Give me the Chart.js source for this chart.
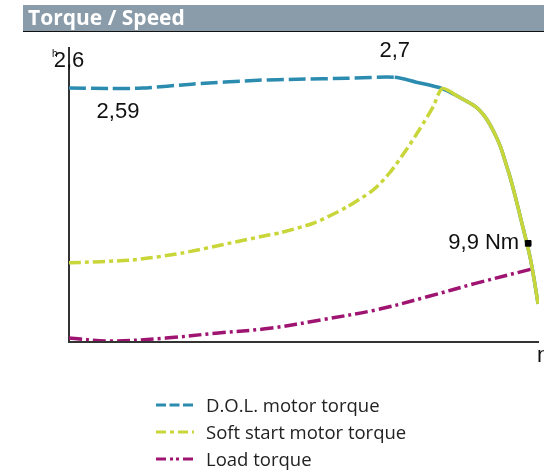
<!DOCTYPE html>
<html>
<head>
<meta charset="utf-8">
<script src="https://cdn.jsdelivr.net/npm/chart.js@4/dist/chart.umd.min.js"></script>
<style>
  html, body { margin: 0; padding: 0; background: #fff; }
  body { width: 544px; height: 471px; position: relative; overflow: hidden; }
  .head { position: absolute; left: 23px; top: 5px; width: 521px; height: 26px; background: #8a9ba9; border-bottom: 1px solid #111; }
  .head span { position: absolute; left: 5px; top: -2px; color: #fff; font: bold 21px 'Open Sans', sans-serif; }
  #wrap { position: absolute; left: 0; top: 0; width: 544px; height: 471px; }
  .legend { position: absolute; left: 156px; top: 391px; font: 18.5px 'Open Sans', sans-serif; color: #222; }
  .legend-item { height: 27px; display: flex; align-items: center; }
  .legend-item svg { width: 38px; height: 8px; margin-right: 12px; }
</style>
</head>
<body>
<div id="wrap"><canvas id="tq" width="544" height="471"></canvas></div>
<div class="head"><span>Torque / Speed</span></div>
<div class="legend" id="legend"></div>
<script>
// ============ DATA ============
// speed in % of the x range, torque in p.u. of nominal torque
const dolSpeed   = [0, 8.6, 15.6, 26.1, 40.2, 48.6, 59.2, 69.3, 73.9, 79.4, 82.9, 86.5, 88.6, 90.3, 91.8, 92.8, 93.9, 94.9, 96.4, 98.1, 99.0, 99.8];
const dolTorque  = [2.59, 2.585, 2.59, 2.63, 2.67, 2.68, 2.69, 2.70, 2.65, 2.585, 2.50, 2.40, 2.29, 2.15, 1.99, 1.84, 1.67, 1.49, 1.20, 0.86, 0.62, 0.38];
const softSpeed  = [0, 13.5, 24.0, 34.5, 42.7, 45.1, 52.2, 59.2, 64.8, 68.2, 71.8, 74.5, 77.5, 79.4, 82.9, 86.5, 88.6, 90.3, 91.8, 92.8, 93.9, 94.9, 96.4, 98.1, 99.0, 99.8];
const softTorque = [0.80, 0.83, 0.90, 1.005, 1.087, 1.11, 1.21, 1.374, 1.55, 1.72, 1.96, 2.16, 2.40, 2.585, 2.50, 2.40, 2.29, 2.15, 1.99, 1.84, 1.67, 1.49, 1.20, 0.86, 0.62, 0.38];
const loadSpeed  = [0, 8.6, 20.6, 31.2, 42.7, 54.0, 65.5, 76.0, 86.5, 98.7];
const loadTorque = [0.03, 0.0, 0.03, 0.08, 0.13, 0.22, 0.32, 0.45, 0.59, 0.74];
const nominalSpeed = 97.7;
const nominalTorque = 1.0;     // p.u.
const nominalNm = 9.9;
const seriesNames = ['D.O.L. motor torque', 'Soft start motor torque', 'Load torque'];
const seriesColors = ['#2b8cb0', '#c9d63a', '#9e1470'];

const pts = (xs, ys) => xs.map((x, i) => ({ x: x, y: ys[i] }));
const fmt = v => String(v).replace('.', ',');
const dolPeak = Math.max(...dolTorque);
const dolPeakX = dolSpeed[dolTorque.indexOf(dolPeak)];
const softPeakX = softSpeed[softTorque.indexOf(Math.max(...softTorque))];

// ============ PLUGINS ============
const axesLines = {
  id: 'axesLines',
  beforeDatasetsDraw(chart) {
    const { ctx, chartArea: a } = chart;
    ctx.save();
    ctx.strokeStyle = '#333';
    ctx.lineWidth = 2;
    ctx.beginPath();
    ctx.moveTo(a.left, a.top - 1);
    ctx.lineTo(a.left, a.bottom + 1);
    ctx.lineTo(a.right, a.bottom + 1);
    ctx.stroke();
    ctx.restore();
  }
};

const notes = {
  id: 'notes',
  afterDatasetsDraw(chart) {
    const { ctx, chartArea: a, scales: { x, y } } = chart;
    ctx.save();
    ctx.fillStyle = '#111';
    ctx.textBaseline = 'middle';
    ctx.font = '22px "Liberation Sans", Arial, sans-serif';
    ctx.textAlign = 'center';
    ctx.fillText('2,6', a.left, a.top + 13);
    ctx.fillText(fmt(dolTorque[0]), x.getPixelForValue(0) + 49, y.getPixelForValue(dolTorque[0]) + 24);
    ctx.fillText(fmt(dolPeak), x.getPixelForValue(dolPeakX), y.getPixelForValue(dolPeak) - 26);
    ctx.textAlign = 'right';
    ctx.fillText(fmt(nominalNm) + ' Nm', x.getPixelForValue(nominalSpeed) - 9, y.getPixelForValue(nominalTorque));
    ctx.textAlign = 'left';
    ctx.fillText('n', a.right - 2, a.bottom + 15);
    ctx.font = '10px "Liberation Sans", Arial, sans-serif';
    ctx.fillText('h', a.left - 17, a.top + 6);
    ctx.restore();
  }
};

// ============ CHART ============
new Chart(document.getElementById('tq'), {
  type: 'line',
  data: {
    datasets: [
      {
        label: 'marker',
        data: [{ x: nominalSpeed, y: nominalTorque }],
        showLine: false,
        pointStyle: 'rect',
        pointRadius: 4,
        backgroundColor: '#000',
        borderColor: '#000',
        order: 0
      },
      {
        label: seriesNames[2],
        data: pts(loadSpeed, loadTorque),
        borderColor: seriesColors[2],
        borderWidth: 3.5,
        borderDash: [13, 4, 3, 4],
        pointRadius: 0,
        tension: 0.35,
        order: 1
      },
      {
        label: seriesNames[1],
        data: pts(softSpeed, softTorque),
        borderColor: seriesColors[1],
        borderWidth: 3.5,
        borderDash: [12, 4, 4, 4],
        segment: { borderDash: c => c.p0.parsed.x >= softPeakX ? [] : [12, 4, 4, 4] },
        pointRadius: 0,
        tension: 0.25,
        order: 2
      },
      {
        label: seriesNames[0],
        data: pts(dolSpeed, dolTorque),
        borderColor: seriesColors[0],
        borderWidth: 3.5,
        borderDash: [17, 5],
        segment: { borderDash: c => c.p0.parsed.x >= dolPeakX ? [] : [17, 5] },
        pointRadius: 0,
        tension: 0.25,
        order: 3
      }
    ]
  },
  options: {
    responsive: false,
    animation: false,
    layout: { padding: { left: 69, top: 48, right: 0, bottom: 130 } },
    plugins: { legend: { display: false }, tooltip: { enabled: false } },
    scales: {
      x: { type: 'linear', min: 0, max: 100, display: false },
      y: { min: 0, max: 3, display: false }
    }
  },
  plugins: [axesLines, notes]
});

// ============ LEGEND ============
const legendDash = ['10 3.5', '10 4 4 4', '10 4 3 3 3 4'];
document.getElementById('legend').innerHTML = seriesNames.map((n, i) =>
  `<div class="legend-item">
    <svg viewBox="0 0 38 8"><line x1="0" y1="4" x2="38" y2="4" stroke="${seriesColors[i]}" stroke-width="3" stroke-dasharray="${legendDash[i]}"/></svg>
    <span>${n}</span>
  </div>`
).join('');
</script>
</body>
</html>
